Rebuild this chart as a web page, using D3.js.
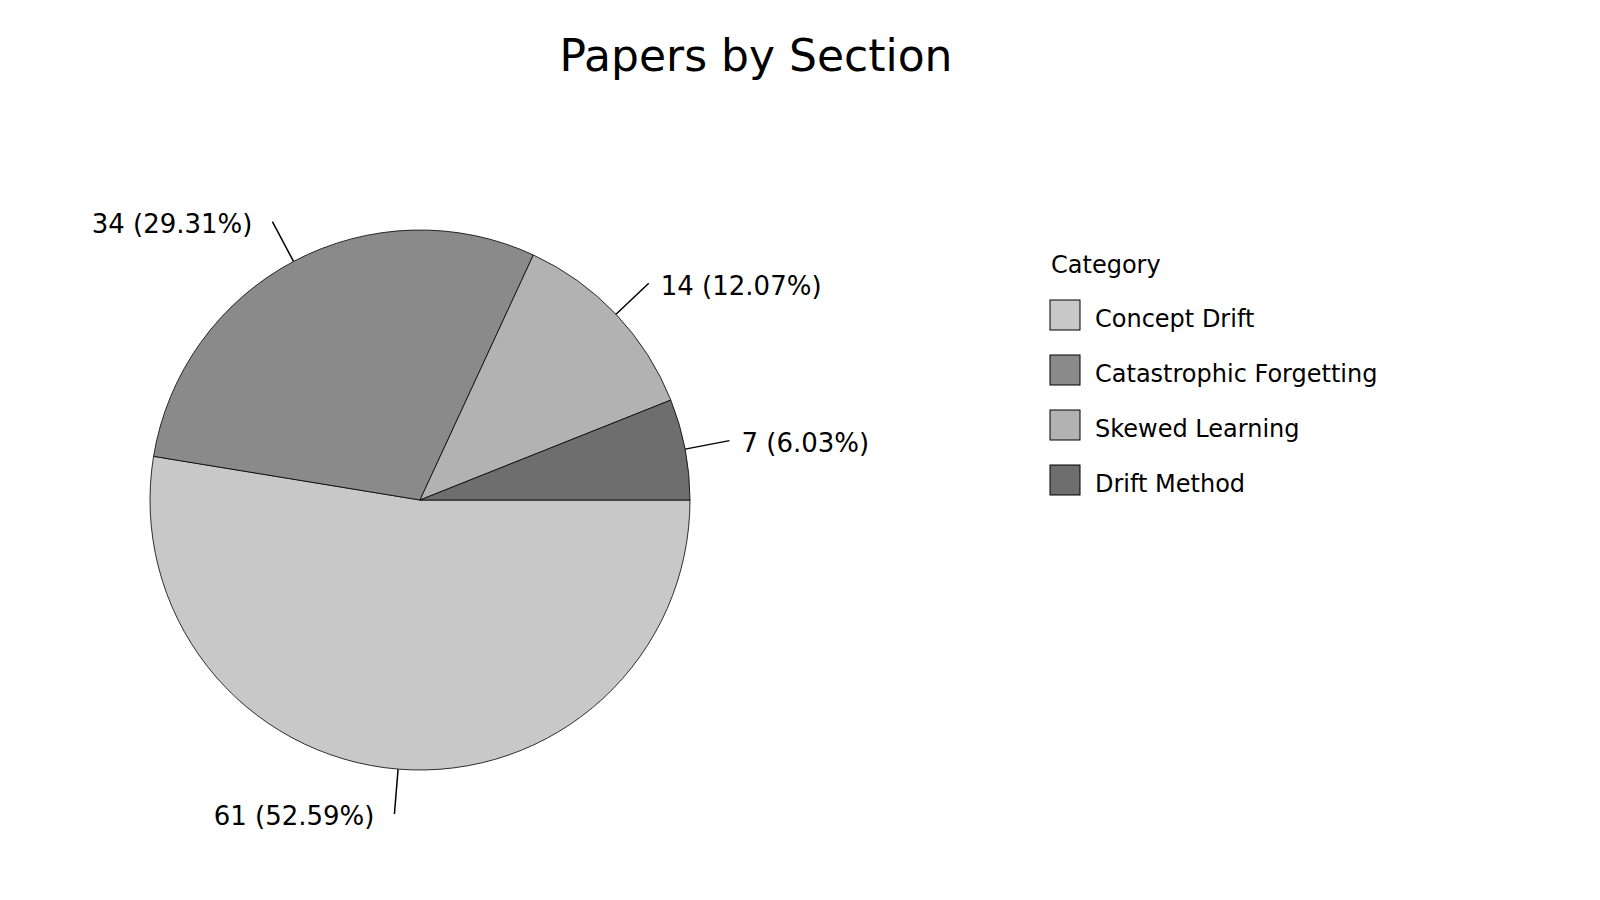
<!doctype html>
<html>
<head>
<meta charset="utf-8">
<script src="https://d3js.org/d3.v7.min.js"></script>
<style>
    body { margin: 0; background: #fff; }
    text { font-family: "DejaVu Sans", sans-serif; fill: #000; }
</style>
</head>
<body>
<svg width="1600" height="900"></svg>
<script>

    var categories = ["Concept Drift", "Catastrophic Forgetting", "Skewed Learning", "Drift Method"];
    var counts = [61, 34, 14, 7];
    var greys = ["#c8c8c8", "#8a8a8a", "#b2b2b2", "#6e6e6e"];

    var svg = d3.select("svg"),
        cx = 420,
        cy = 500,
        radius = 270;

    var total = d3.sum(counts);

    svg.append("text")
       .attr("x", 756)
       .attr("y", 71)
       .attr("text-anchor", "middle")
       .attr("font-size", "44px")
       .text("Papers by Section");

    var color = d3.scaleOrdinal().domain(categories).range(greys);

    var data = categories.map(function(c, i) { return { name: c, value: counts[i] }; });

    // start at 3 o'clock, go clockwise
    var pie = d3.pie()
                .sort(null)
                .value(function(d) { return d.value; })
                .startAngle(Math.PI / 2)
                .endAngle(Math.PI / 2 + 2 * Math.PI);

    var arc = d3.arc().innerRadius(0).outerRadius(radius);
    var edge = d3.arc().innerRadius(radius).outerRadius(radius);
    var outer = d3.arc().innerRadius(radius * 1.167).outerRadius(radius * 1.167);

    var g = svg.append("g")
               .attr("transform", "translate(" + cx + "," + cy + ")");

    var arcs = pie(data);

    g.selectAll(".slice")
     .data(arcs)
     .enter().append("path")
     .attr("class", "slice")
     .attr("d", arc)
     .attr("fill", function(d) { return color(d.data.name); })
     .attr("stroke", "#000")
     .attr("stroke-width", 0.8);

    g.selectAll(".leader")
     .data(arcs)
     .enter().append("line")
     .attr("class", "leader")
     .attr("x1", function(d) { return edge.centroid(d)[0]; })
     .attr("y1", function(d) { return edge.centroid(d)[1]; })
     .attr("x2", function(d) { return outer.centroid(d)[0]; })
     .attr("y2", function(d) { return outer.centroid(d)[1]; })
     .attr("stroke", "#000")
     .attr("stroke-width", 1.5);

    g.selectAll(".label")
     .data(arcs)
     .enter().append("text")
     .attr("class", "label")
     .attr("x", function(d) {
         var p = outer.centroid(d);
         return p[0] < 0 ? p[0] - 20 : p[0] + 12;
     })
     .attr("y", function(d) { return outer.centroid(d)[1] + 2; })
     .attr("dy", "0.36em")
     .attr("text-anchor", function(d) { return outer.centroid(d)[0] < 0 ? "end" : "start"; })
     .attr("font-size", "26px")
     .text(function(d) {
         return d.data.value + " (" + (d.data.value / total * 100).toFixed(2) + "%)";
     });

    var legend = svg.append("g")
                    .attr("transform", "translate(1050,0)");

    legend.append("text")
          .attr("x", 1)
          .attr("y", 273)
          .attr("font-size", "24px")
          .text("Category");

    var rowY = d3.scalePoint().domain(categories).range([300, 465]);

    var rows = legend.selectAll(".row")
                     .data(categories)
                     .enter().append("g")
                     .attr("class", "row")
                     .attr("transform", function(d) { return "translate(0," + rowY(d) + ")"; });

    rows.append("rect")
        .attr("width", 30)
        .attr("height", 30)
        .attr("fill", function(d) { return color(d); })
        .attr("stroke", "#000")
        .attr("stroke-width", 1);

    rows.append("text")
        .attr("x", 45)
        .attr("y", 18)
        .attr("dy", "0.36em")
        .attr("font-size", "24px")
        .text(function(d) { return d; });

</script>
</body>
</html>
